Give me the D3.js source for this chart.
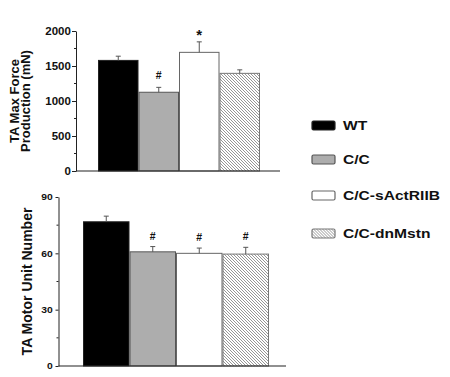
<!DOCTYPE html>
<html>
<head>
<meta charset="utf-8">
<script src="https://cdn.jsdelivr.net/npm/d3@7"></script>
<style>
  body { margin: 0; background: #fff; }
  text { font-family: "Liberation Sans", Arial, sans-serif; font-weight: bold; fill: #111; }
</style>
</head>
<body>
<script>
var categories = ["WT", "C/C", "C/C-sActRIIB", "C/C-dnMstn"];

// top panel: TA max force (mN)
var forceMean = [1580, 1125, 1695, 1395];
var forceErr = [60, 70, 150, 50];
var forceMarks = ["", "#", "*", ""];
var forceTicks = [0, 500, 1000, 1500, 2000];
var forceMinor = [250, 750, 1250, 1750];

// bottom panel: motor unit number
var muMean = [76.8, 60.8, 60.0, 59.6];
var muErr = [3.0, 2.8, 2.8, 3.6];
var muMarks = ["", "#", "#", "#"];
var muTicks = [0, 30, 60, 90];
var muMinor = [15, 45, 75];

var fills = ["#000", "#adadad", "#fff", "url(#hatch)"];
var strokes = ["#222", "#555", "#666", "#777"];

var svg = d3.select("body").append("svg")
    .attr("width", 450)
    .attr("height", 377);

svg.append("rect").attr("width", 450).attr("height", 377).attr("fill", "#fff");

var defs = svg.append("defs");
defs.append("pattern")
    .attr("id", "hatch")
    .attr("patternUnits", "userSpaceOnUse")
    .attr("width", 3).attr("height", 3)
  .call(function(p) {
    p.append("rect").attr("width", 3).attr("height", 3).attr("fill", "#fff");
    p.append("path")
      .attr("d", "M0,0L3,3M-1,2L1,4M2,-1L4,1")
      .attr("stroke", "#8a8a8a")
      .attr("stroke-width", 0.9);
  });

function panel(cfg) {
  var x = d3.scaleBand().domain(categories).range(cfg.band).padding(0);
  var y = d3.scaleLinear().domain(cfg.domain).range(cfg.yRange);
  var g = svg.append("g");

  // bars
  g.selectAll("rect.bar")
    .data(categories)
    .enter().append("rect")
    .attr("class", "bar")
    .attr("x", function(d) { return x(d) + 0.5; })
    .attr("width", x.bandwidth() - 1)
    .attr("y", function(d, i) { return y(cfg.mean[i]); })
    .attr("height", function(d, i) { return y(0) - y(cfg.mean[i]); })
    .attr("fill", function(d, i) { return fills[i]; })
    .attr("stroke", function(d, i) { return strokes[i]; })
    .attr("stroke-width", 1);

  // upper error bars
  var eb = g.selectAll("g.err")
    .data(categories)
    .enter().append("g")
    .attr("class", "err")
    .attr("stroke", "#555")
    .attr("stroke-width", 1);
  eb.append("line")
    .attr("x1", function(d) { return x(d) + x.bandwidth() / 2; })
    .attr("x2", function(d) { return x(d) + x.bandwidth() / 2; })
    .attr("y1", function(d, i) { return y(cfg.mean[i]); })
    .attr("y2", function(d, i) { return y(cfg.mean[i] + cfg.err[i]); });
  eb.append("line")
    .attr("x1", function(d) { return x(d) + x.bandwidth() / 2 - 2.5; })
    .attr("x2", function(d) { return x(d) + x.bandwidth() / 2 + 2.5; })
    .attr("y1", function(d, i) { return y(cfg.mean[i] + cfg.err[i]); })
    .attr("y2", function(d, i) { return y(cfg.mean[i] + cfg.err[i]); });

  // significance marks
  g.selectAll("text.mark")
    .data(categories)
    .enter().append("text")
    .attr("class", "mark")
    .attr("x", function(d) { return x(d) + x.bandwidth() / 2; })
    .attr("y", function(d, i) { return y(cfg.mean[i] + cfg.err[i]) - cfg.markGap; })
    .attr("text-anchor", "middle")
    .attr("font-size", function(d, i) { return cfg.marks[i] == "*" ? 15 : 10.5; })
    .attr("dy", function(d, i) { return cfg.marks[i] == "*" ? "0.45em" : 0; })
    .text(function(d, i) { return cfg.marks[i]; });

  // axes
  var ax = g.append("g")
    .attr("transform", "translate(" + cfg.axisX + ",0)")
    .call(d3.axisLeft(y).tickValues(cfg.ticks).tickFormat(d3.format("d"))
      .tickSize(cfg.tickSize).tickPadding(cfg.tickPad).tickSizeOuter(0));
  ax.select(".domain").attr("stroke", "#222");
  ax.selectAll(".tick line").attr("stroke", "#222");
  ax.selectAll(".tick text")
    .attr("font-size", cfg.tickFont)
    .attr("fill", "#111")
    .attr("font-family", "Liberation Sans, Arial, sans-serif")
    .attr("font-weight", "bold")
    .attr("transform", "scale(1.15,1)");

  ax.selectAll("line.minor")
    .data(cfg.minor)
    .enter().append("line")
    .attr("class", "minor")
    .attr("x1", -2).attr("x2", 0)
    .attr("y1", function(d) { return y(d); })
    .attr("y2", function(d) { return y(d); })
    .attr("stroke", "#222");

  g.append("line")
    .attr("x1", cfg.axisX).attr("x2", cfg.axisEnd)
    .attr("y1", y(0)).attr("y2", y(0))
    .attr("stroke", "#222").attr("stroke-width", 1.2);

  // y title
  var cy = (cfg.yRange[0] + cfg.yRange[1]) / 2;
  cfg.title.forEach(function(line, i) {
    g.append("text")
      .attr("transform", "translate(" + cfg.titleX[i] + "," + cy + ") rotate(-90)")
      .attr("text-anchor", "middle")
      .attr("font-size", cfg.titleFont)
      .text(line);
  });
}

panel({
  mean: forceMean, err: forceErr, marks: forceMarks,
  domain: [0, 2000], yRange: [171, 31], band: [98, 260],
  axisX: 76, axisEnd: 280, ticks: forceTicks, minor: forceMinor,
  tickSize: 4, tickPad: 0.5, tickFont: 10, markGap: 8.5,
  title: ["TA Max Force", "Production (mN)"], titleX: [18.5, 30], titleFont: 13
});

panel({
  mean: muMean, err: muErr, marks: muMarks,
  domain: [0, 90], yRange: [366, 197], band: [83, 269],
  axisX: 58.5, axisEnd: 286, ticks: muTicks, minor: muMinor,
  tickSize: 3, tickPad: 2, tickFont: 9, markGap: 7,
  title: ["TA Motor Unit Number"], titleX: [32], titleFont: 14
});

// legend
var legY = [125.5, 159.5, 195.5, 233.5];
var leg = svg.append("g").selectAll("g")
  .data(categories)
  .enter().append("g")
  .attr("transform", function(d, i) { return "translate(312," + legY[i] + ")"; });
leg.append("rect")
  .attr("x", 0).attr("y", -4.5)
  .attr("width", 23).attr("height", 9)
  .attr("rx", 1.5)
  .attr("fill", function(d, i) { return fills[i]; })
  .attr("stroke", function(d, i) { return strokes[i]; })
  .attr("stroke-width", 1.2);
leg.append("text")
  .attr("transform", "translate(31,0) scale(1.2,1)")
  .attr("dy", "0.36em")
  .attr("font-size", 13)
  .text(function(d) { return d; });
</script>
</body>
</html>
